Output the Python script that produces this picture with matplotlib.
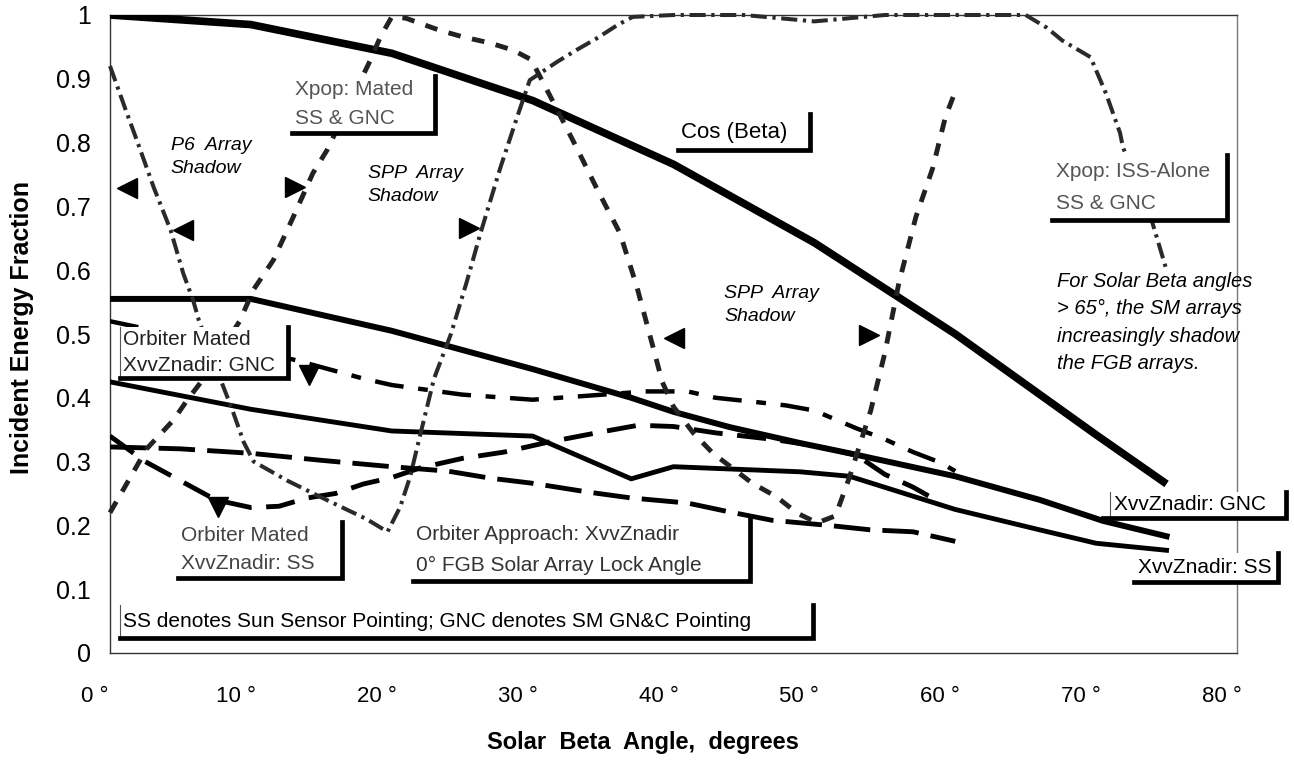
import matplotlib
matplotlib.use("Agg")
import matplotlib.pyplot as plt
import matplotlib.transforms as mtransforms
from matplotlib.patches import Rectangle

plt.rcParams['font.family'] = ['Liberation Sans', 'DejaVu Sans']

# -------------------------------------------------------------------------------
# Data
# -------------------------------------------------------------------------------

# Cos (Beta)
cos_x = [0, 10, 20, 30, 40, 50, 60, 70, 75]
cos_y = [1.0, 0.985, 0.94, 0.866, 0.766, 0.643, 0.50, 0.342, 0.265]

# XvvZnadir: GNC (solid)
gnc_x = [0, 10, 20, 30, 37, 40, 44, 49, 52.5, 60, 66, 70.5, 75]
gnc_y = [0.555, 0.555, 0.505, 0.445, 0.40, 0.378, 0.354, 0.329, 0.313, 0.277, 0.24, 0.207, 0.183]

# XvvZnadir: SS (solid)
ss_x = [0, 10, 20, 30, 37, 40, 49, 52.5, 60, 66, 70, 75]
ss_y = [0.425, 0.382, 0.348, 0.34, 0.273, 0.292, 0.284, 0.277, 0.225, 0.193, 0.172, 0.161]

# Orbiter Mated XvvZnadir: GNC (dash-dot)
om_gnc_x = [0, 13, 18, 20, 25, 30, 35, 38, 41, 43, 46, 48, 50, 53, 55, 57, 59, 60]
om_gnc_y = [0.52, 0.46, 0.43, 0.42, 0.405, 0.397, 0.405, 0.41, 0.41, 0.40, 0.393, 0.388, 0.38,
            0.352, 0.335, 0.315, 0.298, 0.285]

# Orbiter Mated XvvZnadir: SS (dashed)
om_ss_x = [0, 2.5, 5, 7.5, 10, 12, 14, 16, 18, 20, 22, 25, 28, 31, 35, 37.5, 40, 43, 47, 50,
           53, 55, 57, 59]
om_ss_y = [0.34, 0.30, 0.27, 0.24, 0.228, 0.23, 0.243, 0.25, 0.265, 0.275, 0.29, 0.305, 0.315,
           0.33, 0.347, 0.357, 0.355, 0.345, 0.335, 0.325, 0.31, 0.28, 0.26, 0.235]

# Orbiter Approach: XvvZnadir, 0 deg FGB lock (dashed)
oa_x = [0, 5, 10, 15, 20, 24, 27, 30, 34, 37, 41, 44, 47, 51, 54, 57, 60]
oa_y = [0.323, 0.32, 0.313, 0.302, 0.292, 0.285, 0.274, 0.266, 0.252, 0.243, 0.235, 0.221,
        0.208, 0.2, 0.193, 0.19, 0.175]

# Xpop: Mated SS & GNC (short dashes)
xm_x = [0, 1.2, 2.6, 4.5, 5.5, 6.4, 9.2, 10.2, 11.6, 13, 14.4, 15.4, 18.5, 19.2, 20, 21, 23.4,
        25, 27, 28.6, 29.9, 31.5, 33.1, 34.6, 36.2, 37.4, 38.3, 39.2, 40, 41.4, 42.8, 45.6,
        47.3, 48.8, 50.2, 51.5, 52.5, 54, 55, 56, 57.2, 58.4, 59.3, 60]
xm_y = [0.22, 0.266, 0.32, 0.365, 0.397, 0.423, 0.52, 0.57, 0.616, 0.683, 0.752, 0.788, 0.93,
        0.966, 0.997, 0.995, 0.976, 0.966, 0.956, 0.945, 0.93, 0.862, 0.793, 0.726, 0.658,
        0.574, 0.50, 0.425, 0.386, 0.345, 0.313, 0.266, 0.245, 0.219, 0.204, 0.215, 0.276,
        0.38, 0.47, 0.58, 0.683, 0.76, 0.84, 0.88]

# Xpop: ISS-Alone SS & GNC (dash-dot-dot)
xa_x = [0, 1.2, 1.9, 3.1, 4.3, 5.2, 5.9, 6.3, 8, 8.7, 9.5, 10.2, 11, 12.6, 14.9, 18.2, 19.7,
        20.6, 21.3, 22, 23, 24.2, 25.3, 26.3, 27.7, 28.9, 29.8, 31.7, 33.1, 34.6, 36, 37.1,
        40, 45, 50, 55, 65, 66.5, 67.6, 69.6, 70.7, 71.7, 71.9, 74, 75]
xa_y = [0.92, 0.846, 0.804, 0.73, 0.663, 0.595, 0.553, 0.522, 0.42, 0.38, 0.33, 0.30, 0.29,
        0.27, 0.245, 0.21, 0.19, 0.229, 0.276, 0.34, 0.43, 0.50, 0.58, 0.658, 0.76, 0.84,
        0.898, 0.926, 0.945, 0.964, 0.984, 0.997, 1.0, 1.0, 0.99, 1.0, 1.0, 0.98, 0.96, 0.934,
        0.877, 0.815, 0.793, 0.674, 0.6]

x_ticks = [0, 10, 20, 30, 40, 50, 60, 70, 80]
x_tick_labels = ["0 °", "10 °", "20 °", "30 °", "40 °", "50 °", "60 °", "70 °", "80 °"]
y_ticks = [0, 0.1, 0.2, 0.3, 0.4, 0.5, 0.6, 0.7, 0.8, 0.9, 1.0]
y_tick_labels = ["0", "0.1", "0.2", "0.3", "0.4", "0.5", "0.6", "0.7", "0.8", "0.9", "1"]

# -------------------------------------------------------------------------------
# Figure
# -------------------------------------------------------------------------------

W, H = 1294, 761
fig = plt.figure(figsize=(W / 100, H / 100), dpi=100)
ax = fig.add_axes([110 / W, 1 - 653 / H, (1237 - 110) / W, (653 - 15) / H])
ax.set_xlim(0, 80)
ax.set_ylim(0, 1)

for s in ax.spines.values():
    s.set_color('#333333')
    s.set_linewidth(1.0)
ax.spines['right'].set_color('#777777')

# lines
ax.plot(cos_x, cos_y, color='black', lw=5.5, solid_capstyle='butt', zorder=3)
ax.plot(gnc_x, gnc_y, color='black', lw=4.3, zorder=3)
ax.plot(ss_x, ss_y, color='black', lw=3.5, zorder=3)
ax.plot(om_gnc_x, om_gnc_y, color='black', lw=3.2, dashes=(6.5, 3.3, 2.2, 3.3), zorder=3)
ax.plot(om_ss_x, om_ss_y, color='black', lw=3.5, dashes=(6, 3), zorder=3)
ax.plot(oa_x, oa_y, color='black', lw=3.5, dashes=(7.5, 2.5), zorder=3)
ax.plot(xm_x, xm_y, color='#222222', lw=3.5, dashes=(2.6, 2.4), zorder=3, clip_on=False)
ax.plot(xa_x, xa_y, color='#2a2a2a', lw=2.9, dashes=(4, 1.4, 0.8, 1.4), zorder=3, clip_on=False)

# shadow boundary arrow heads
tri = dict(color='black', ms=15, ls='none', zorder=7)
ax.plot([1.2, 5.2, 40], [0.729, 0.663, 0.494], marker='<', **tri)
ax.plot([13.1, 25.5, 53.9], [0.73, 0.666, 0.498], marker='>', **tri)
ax.plot([7.7, 14.1], [0.229, 0.436], marker='v', **tri)


def callout(x0, x1, y0, y1, lines, color='black', size=15, left=False, bottom_from=None):
    # white label box with a thick bottom and right edge
    ax.add_patch(Rectangle((x0, y0), x1 - x0, y1 - y0, facecolor='white', edgecolor='none',
                           zorder=5, clip_on=False))
    if left:
        ax.plot([x0, x0], [y0, y1], color='#555555', lw=0.8, zorder=6, clip_on=False)
    bx = x0 if bottom_from is None else bottom_from
    ax.plot([bx, x1, x1], [y0, y0, y1], color='black', lw=3.4, zorder=6, clip_on=False,
            solid_joinstyle='miter')
    n = len(lines)
    for i, t in enumerate(lines):
        yy = y1 - (y1 - y0) * (i + 0.5) / n
        ax.text(x0 + 0.25, yy, t, color=color, fontsize=size, va='center', ha='left',
                zorder=8, clip_on=False)


callout(12.9, 23.1, 0.815, 0.905, ["Xpop: Mated", "SS & GNC"], color='#555555')
callout(40.3, 49.7, 0.788, 0.845, ["Cos (Beta)"], size=16)
callout(66.9, 79.3, 0.679, 0.780, ["Xpop: ISS-Alone", "SS & GNC"], color='#555555')
callout(0.7, 12.6, 0.431, 0.511, ["Orbiter Mated", "XvvZnadir: GNC"], color='#222222',
        left=True)
callout(4.8, 16.5, 0.118, 0.206, ["Orbiter Mated", "XvvZnadir: SS"], color='#444444')
callout(21.5, 45.4, 0.113, 0.210, ["Orbiter Approach: XvvZnadir",
                                   "0° FGB Solar Array Lock Angle"], color='#333333')
callout(0.7, 49.9, 0.023, 0.075, ["SS denotes Sun Sensor Pointing; GNC denotes SM GN&C Pointing"],
        left=True)
callout(71.0, 83.5, 0.212, 0.252, ["XvvZnadir: GNC"], left=True, bottom_from=70.5)
callout(72.7, 82.9, 0.112, 0.157, ["XvvZnadir: SS"])

# italic notes
ital = dict(fontsize=14, style='italic', va='center', ha='left', zorder=8)
ax.text(4.3, 0.796, "P6  Array", **ital)
ax.text(4.3, 0.760, "Shadow", **ital)
ax.text(18.3, 0.752, "SPP  Array", **ital)
ax.text(18.3, 0.716, "Shadow", **ital)
ax.text(43.6, 0.564, "SPP  Array", **ital)
ax.text(43.6, 0.528, "Shadow", **ital)
ax.text(67.2, 0.597, "For Solar Beta angles\n> 65°, the SM arrays\nincreasingly shadow\nthe FGB arrays.",
        fontsize=14.5, style='italic', va='top', ha='left', linespacing=1.55, zorder=8)

# ticks
ax.set_xticks(x_ticks)
ax.set_xticklabels(x_tick_labels, fontsize=16)
ax.set_yticks(y_ticks)
ax.set_yticklabels(y_tick_labels, fontsize=18)
ax.tick_params(axis='both', length=0)
ax.tick_params(axis='x', pad=24)
ax.tick_params(axis='y', pad=14)
shift = mtransforms.ScaledTranslation(-0.15, 0, fig.dpi_scale_trans)
for lab in ax.get_xticklabels():
    lab.set_transform(lab.get_transform() + shift)

fig.text(643 / W, 1 - 742 / H, "Solar  Beta  Angle,  degrees", fontsize=17, fontweight='bold',
         ha='center', va='center')
fig.text(22 / W, 1 - 327 / H, "Incident Energy Fraction", fontsize=18, fontweight='bold',
         ha='center', va='center', rotation=90)

fig.savefig("out.png", dpi=100)
